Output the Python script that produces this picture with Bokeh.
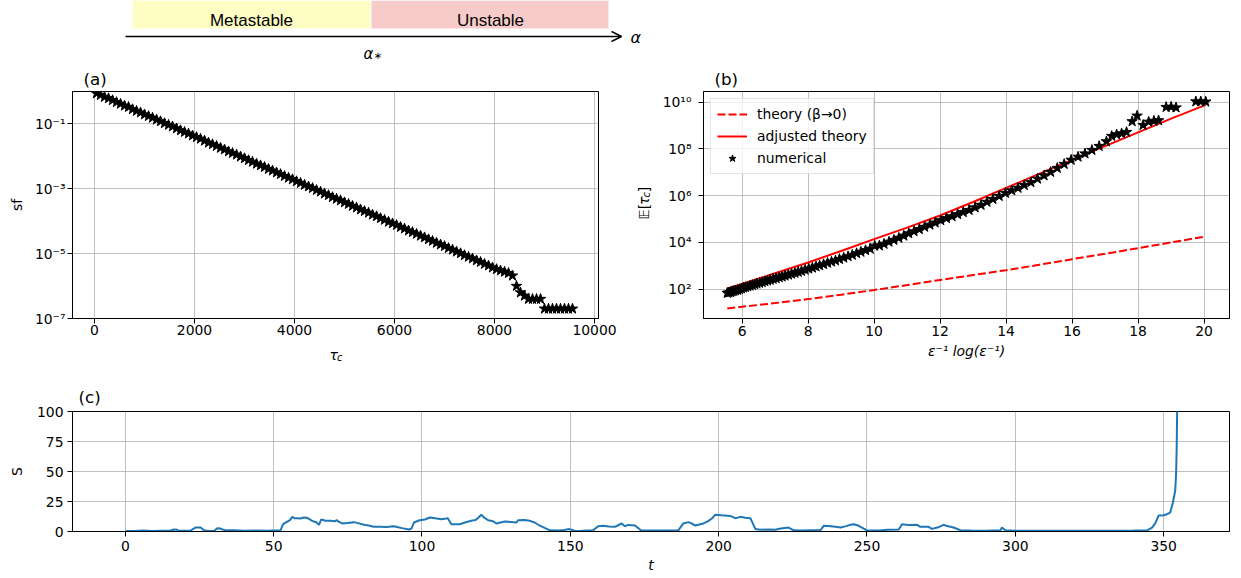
import math
from bokeh.plotting import figure
from bokeh.models import (Range1d, FixedTicker, CustomJSTickFormatter, Label, Legend,
                          LegendItem, Arrow, OpenHead, BasicTickFormatter, Title)
from bokeh.layouts import column, row
from bokeh.embed import file_html
from bokeh.resources import INLINE

# ---------------- data ----------------
# (a) survival function of tau_c (values as log10(sf))
sf_tau = [40, 120, 200, 280, 360, 440, 520, 600, 680, 760,
          840, 920, 1000, 1080, 1160, 1240, 1320, 1400, 1480, 1560,
          1640, 1720, 1800, 1880, 1960, 2040, 2120, 2200, 2280, 2360,
          2440, 2520, 2600, 2680, 2760, 2840, 2920, 3000, 3080, 3160,
          3240, 3320, 3400, 3480, 3560, 3640, 3720, 3800, 3880, 3960,
          4040, 4120, 4200, 4280, 4360, 4440, 4520, 4600, 4680, 4760,
          4840, 4920, 5000, 5080, 5160, 5240, 5320, 5400, 5480, 5560,
          5640, 5720, 5800, 5880, 5960, 6040, 6120, 6200, 6280, 6360,
          6440, 6520, 6600, 6680, 6760, 6840, 6920, 7000, 7080, 7160,
          7240, 7320, 7400, 7480, 7560, 7640, 7720, 7800, 7880, 7960,
          8040, 8120, 8200, 8280, 8360, 8440, 8520, 8600, 8680, 8760,
          8840, 8920, 9000, 9080, 9160, 9240, 9320, 9400, 9480, 9560]
sf_log10 = [-0.06, -0.11, -0.17, -0.21, -0.27, -0.33, -0.38, -0.44, -0.48, -0.55,
            -0.60, -0.65, -0.71, -0.76, -0.81, -0.87, -0.92, -0.98, -1.03, -1.08,
            -1.14, -1.20, -1.25, -1.30, -1.36, -1.41, -1.46, -1.52, -1.58, -1.63,
            -1.68, -1.74, -1.79, -1.85, -1.90, -1.95, -2.01, -2.06, -2.12, -2.17,
            -2.23, -2.28, -2.33, -2.39, -2.44, -2.50, -2.55, -2.61, -2.66, -2.71,
            -2.77, -2.82, -2.88, -2.93, -2.98, -3.04, -3.09, -3.15, -3.20, -3.26,
            -3.31, -3.36, -3.42, -3.47, -3.53, -3.58, -3.64, -3.69, -3.74, -3.80,
            -3.85, -3.91, -3.96, -4.02, -4.07, -4.12, -4.18, -4.23, -4.29, -4.34,
            -4.39, -4.45, -4.50, -4.56, -4.61, -4.67, -4.72, -4.77, -4.83, -4.88,
            -4.94, -4.99, -5.05, -5.10, -5.15, -5.21, -5.26, -5.32, -5.37, -5.43,
            -5.48, -5.52, -5.56, -5.60, -5.68, -6.00, -6.20, -6.30, -6.40, -6.40,
            -6.40, -6.40, -6.70, -6.70, -6.70, -6.70, -6.70, -6.70, -6.70, -6.70]

# (b) mean exit time vs eps^-1 log(eps^-1) (values as log10)
num_x = [5.55, 5.60, 5.65, 5.70, 5.75, 5.80, 5.86, 5.92, 5.98, 6.04,
         6.10, 6.17, 6.24, 6.31, 6.38, 6.45, 6.53, 6.61, 6.69, 6.77,
         6.85, 6.94, 7.03, 7.12, 7.21, 7.30, 7.40, 7.50, 7.60, 7.70,
         7.80, 7.91, 8.02, 8.13, 8.24, 8.35, 8.47, 8.59, 8.71, 8.83,
         8.95, 9.08, 9.21, 9.34, 9.47, 9.60, 9.74, 9.88, 10.02, 10.16,
         10.30, 10.45, 10.60, 10.75, 10.90, 11.05, 11.21, 11.37, 11.53, 11.69,
         11.85, 12.02, 12.19, 12.36, 12.53, 12.70, 12.88, 13.06, 13.24, 13.42,
         13.60, 13.79, 13.98, 14.17, 14.36, 14.55, 14.75, 14.95, 15.15, 15.35,
         15.55, 15.76, 15.97, 16.18, 16.39, 16.60, 16.82, 17.04, 17.20, 17.35,
         17.50, 17.65, 17.82, 17.97, 18.15, 18.32, 18.48, 18.62, 18.85, 19.00,
         19.15, 19.75, 19.90, 20.05]
num_log10 = [1.83, 1.85, 1.87, 1.90, 1.92, 1.94, 1.96, 1.99, 2.02, 2.06,
             2.08, 2.11, 2.14, 2.17, 2.20, 2.23, 2.26, 2.29, 2.33, 2.36,
             2.39, 2.43, 2.46, 2.50, 2.53, 2.57, 2.61, 2.65, 2.69, 2.73,
             2.77, 2.82, 2.87, 2.91, 2.96, 3.01, 3.06, 3.12, 3.17, 3.22,
             3.28, 3.34, 3.40, 3.46, 3.53, 3.59, 3.66, 3.72, 3.85, 3.86,
             3.93, 4.02, 4.10, 4.19, 4.28, 4.38, 4.47, 4.56, 4.66, 4.75,
             4.84, 4.94, 5.03, 5.11, 5.20, 5.29, 5.38, 5.49, 5.60, 5.73,
             5.85, 5.98, 6.11, 6.22, 6.33, 6.45, 6.57, 6.72, 6.86, 7.01,
             7.18, 7.35, 7.53, 7.66, 7.80, 7.95, 8.12, 8.32, 8.55, 8.62,
             8.66, 8.72, 9.18, 9.42, 9.02, 9.16, 9.20, 9.22, 9.79, 9.80,
             9.77, 10.03, 10.03, 10.02]
theory_x = [5.55, 6, 7, 8, 9, 10, 11, 12, 13, 14, 15, 16, 17, 18, 19, 20.05]
theory0_log10 = [1.17, 1.24, 1.40, 1.57, 1.76, 1.96, 2.17, 2.39, 2.60, 2.81,
                 3.04, 3.28, 3.51, 3.75, 4.00, 4.25]
adjusted_log10 = [2.03, 2.22, 2.68, 3.14, 3.63, 4.14, 4.63, 5.15, 5.73, 6.33,
                  6.93, 7.53, 8.12, 8.71, 9.30, 9.89]

# (c) trajectory S(t)
t_vals = [0, 3, 6, 9, 12, 15, 16.4, 17.5, 18, 22,
          22.6, 23.7, 25.4, 26.5, 28, 30, 31, 32, 32.7, 33.5,
          36.6, 40, 44, 48, 52.3, 53.2, 54.6, 55.5, 56.3, 57,
          58, 59, 60.2, 61.5, 63, 64.5, 65.3, 66, 67.5, 69.2,
          70.5, 71.4, 72, 73.1, 75, 77.1, 78.5, 80.4, 82, 83.8,
          86, 88, 90.5, 92, 93.3, 95.6, 96.5, 97.3, 99.2, 101,
          102.6, 104.5, 106.5, 108.7, 109.9, 112.7, 114.5, 116.6, 118, 119,
          120, 121, 122.3, 124, 125.1, 126.5, 127.9, 130, 131.9, 132.4,
          134.5, 136.4, 138, 139.2, 141, 143.1, 146, 148, 149.3, 150.5,
          151.5, 154, 157.7, 159.4, 161, 163, 165, 166, 167.3, 168.4,
          169.5, 171.8, 173.8, 178, 182, 186.4, 188.1, 189.8, 191, 192.1,
          194.9, 196.6, 197.8, 198.8, 201, 203.9, 205.6, 207.3, 209, 210.7,
          212.4, 214, 216.9, 219, 221, 223.6, 225.3, 228, 231, 234.3,
          235.4, 237, 239.4, 241.1, 243, 244.4, 245.5, 247, 248.3, 250,
          254, 257, 260.7, 261.8, 264, 266.9, 268, 270.8, 271.9, 274,
          275.8, 277, 279.2, 281.5, 285, 290, 295, 295.5, 296.6, 300,
          310, 320, 330, 340, 344.4, 346.1, 347.2, 348.3, 350, 351.1,
          352.2, 353.1, 353.9, 354.2, 354.4, 354.55, 354.6]
S_vals = [0.5, 0.5, 0.8, 0.5, 0.7, 0.6, 1.7, 1.5, 0.6, 0.7,
          1.7, 3.3, 3.3, 1.0, 0.5, 0.6, 2.8, 2.5, 1.7, 1.2,
          1.0, 0.7, 0.8, 0.7, 1.0, 6.1, 8.3, 9.5, 12.2, 11.0,
          11.1, 10.8, 11.7, 11.2, 8.9, 7.5, 5.6, 10.0, 9.0, 8.9,
          8.5, 9.4, 8.0, 6.7, 7.0, 7.8, 7.0, 5.6, 5.0, 3.9,
          4.0, 3.8, 4.4, 3.5, 2.8, 1.7, 2.5, 7.5, 9.4, 10.0,
          11.7, 11.0, 10.3, 11.0, 6.0, 6.0, 7.5, 8.9, 9.5, 11.5,
          13.9, 11.5, 9.4, 8.5, 6.7, 7.5, 8.3, 8.0, 7.5, 9.4,
          9.5, 8.9, 7.5, 5.6, 3.5, 1.0, 0.8, 1.2, 2.0, 1.5,
          0.5, 0.6, 1.0, 4.4, 4.8, 4.2, 3.9, 5.0, 6.7, 4.4,
          5.5, 5.0, 1.0, 0.8, 0.9, 1.0, 6.7, 7.8, 6.5, 5.0,
          6.7, 8.9, 11.0, 13.9, 13.5, 13.0, 11.1, 12.2, 11.5, 11.1,
          2.0, 1.5, 1.7, 1.5, 2.5, 3.3, 1.0, 0.8, 1.0, 1.0,
          4.7, 4.5, 3.9, 3.3, 4.5, 5.6, 6.1, 5.0, 3.3, 1.0,
          0.8, 1.5, 1.7, 6.1, 5.5, 5.6, 3.9, 3.9, 2.2, 3.5,
          5.6, 4.5, 3.3, 1.0, 0.8, 0.7, 1.0, 3.3, 1.0, 0.6,
          0.7, 0.6, 0.7, 0.8, 1.0, 3.3, 7.0, 13.3, 13.6, 14.4,
          15.8, 24, 34, 48, 70, 100, 130]

# tick values / labels
a_xticks = [0, 2000, 4000, 6000, 8000, 10000]
a_yticks = [1e-7, 1e-5, 1e-3, 1e-1]
b_xticks = [6, 8, 10, 12, 14, 16, 18, 20]
b_yticks = [1e2, 1e4, 1e6, 1e8, 1e10]
c_xticks = [0, 50, 100, 150, 200, 250, 300, 350]
c_yticks = [0, 25, 50, 75, 100]
regions = ["Metastable", "Unstable"]
panel_tags = ["(a)", "(b)", "(c)"]
legend_labels = ["theory (β→0)", "adjusted theory", "numerical"]

FONT = "DejaVu Sans"
FS = "13.9px"

sup_fmt = CustomJSTickFormatter(code="""
const sup = {"-":"\u207b","0":"\u2070","1":"\u00b9","2":"\u00b2","3":"\u00b3","4":"\u2074",
             "5":"\u2075","6":"\u2076","7":"\u2077","8":"\u2078","9":"\u2079"};
const e = Math.round(Math.log10(tick));
return "10" + String(e).split("").map(c => sup[c]).join("");
""")


def style(p):
    p.outline_line_color = "black"
    p.outline_line_width = 1
    p.background_fill_color = "white"
    p.border_fill_color = "white"
    for ax in list(p.xaxis) + list(p.yaxis):
        ax.major_label_text_font = FONT
        ax.major_label_text_font_size = FS
        ax.major_label_text_color = "black"
        ax.axis_label_text_font = FONT
        ax.axis_label_text_font_size = FS
        ax.axis_label_text_font_style = "normal"
        ax.axis_label_text_color = "black"
        ax.axis_line_color = "black"
        ax.axis_line_width = 1
        ax.major_tick_line_color = "black"
        ax.major_tick_out = 5
        ax.major_tick_in = 0
        ax.minor_tick_line_color = None
    p.grid.grid_line_color = "#b0b0b0"
    p.grid.grid_line_width = 0.8


def lab(p, x, y, text, size=FS, style_="normal", angle=0.0, align="left",
        baseline="middle", font=FONT):
    p.add_layout(Label(x=x, y=y, text=text,
                       text_font=font, text_font_size=size,
                       text_font_style=style_, angle=angle, text_align=align,
                       text_baseline=baseline, text_color="black"))


def strip(width, height, x0, x1, y_bottom, y_top):
    """Blank figure whose data coordinates equal page pixels (for free text)."""
    s = figure(width=width, height=height, x_range=Range1d(x0, x1),
               y_range=Range1d(y_bottom, y_top), toolbar_location=None,
               output_backend="svg", min_border=0, x_axis_location=None,
               y_axis_location=None, title=None, frame_align=False)
    s.grid.grid_line_color = None
    s.outline_line_color = None
    s.background_fill_color = "white"
    s.border_fill_color = "white"
    return s


# ---------------- top diagram (page y 0..91) ----------------
top = strip(1241, 91, 0, 1241, 91, 0)
top.quad(left=[132, 371], right=[370, 608], top=[0, 0], bottom=[28, 28],
         fill_color=["#fdfdc4", "#f8cbcb"], line_color=None)
lab(top, 251, 20, regions[0], size="17px", align="center", baseline="alphabetic",
    font="Liberation Sans")
lab(top, 490, 20, regions[1], size="17px", align="center", baseline="alphabetic",
    font="Liberation Sans")
top.add_layout(Arrow(x_start=125, y_start=36, x_end=621, y_end=36, line_width=1.5,
                     line_color="black",
                     end=OpenHead(size=10, line_width=1.5, line_color="black")))
lab(top, 630, 37, "α", size="16px", style_="italic")
lab(top, 363, 53, "α", size="15px", style_="italic")
lab(top, 373, 55, "∗", size="10px")
lab(top, 83, 78.5, panel_tags[0], size="16.7px")
lab(top, 714, 78.5, panel_tags[1], size="16.7px")

# ---------------- panel (a) (page y 91..341) ----------------
fa = figure(width=624, height=250, x_range=Range1d(-440, 10080),
            y_range=Range1d(1e-7, 1.0), y_axis_type="log",
            toolbar_location=None, output_backend="svg", title=None,
            min_border_left=72, min_border_right=26, min_border_top=0,
            min_border_bottom=23, frame_align=False)
fa.scatter(sf_tau, [10 ** v for v in sf_log10], marker="star", size=11,
           fill_color="black", line_color="black")
style(fa)
fa.xaxis.ticker = FixedTicker(ticks=a_xticks)
fa.xaxis.formatter = BasicTickFormatter(use_scientific=False)
fa.yaxis.ticker = FixedTicker(ticks=a_yticks)
fa.yaxis.formatter = sup_fmt
fa.xaxis.major_label_standoff = 1
fa.yaxis.major_label_standoff = 2
fa.yaxis.axis_label = "sf"
fa.yaxis.axis_label_standoff = 7

# x label of (a): tau with subscript c (page y 341..368)
strip_a = strip(624, 27, 0, 624, 368, 341)
lab(strip_a, 329, 354, "τ", style_="italic", baseline="alphabetic")
lab(strip_a, 336.6, 357, "c", size="9.7px", style_="italic", baseline="alphabetic")

# y label of (b): E[tau_c] rotated (page x 624..656, y 91..368)
strip_b = strip(32, 277, 624, 656, 368, 91)
ang = math.pi / 2
lab(strip_b, 643, 219, "𝔼[", angle=ang, baseline="alphabetic")
lab(strip_b, 643, 204.6, "τ", angle=ang, style_="italic", baseline="alphabetic")
lab(strip_b, 646, 197, "c", size="9.7px", angle=ang, style_="italic", baseline="alphabetic")
lab(strip_b, 643, 191.7, "]", angle=ang, baseline="alphabetic")

# ---------------- panel (b) (page x 656..1241) ----------------
fb = figure(width=585, height=277, x_range=Range1d(4.83, 20.77),
            y_range=Range1d(10 ** 0.74, 10 ** 10.46), y_axis_type="log",
            toolbar_location=None, output_backend="svg", title=None,
            min_border_left=47, min_border_right=12, min_border_top=0,
            min_border_bottom=50, frame_align=False)
r0 = fb.line(theory_x, [10 ** v for v in theory0_log10], line_color="#ff0000",
             line_width=2, line_dash="8 3")
r1 = fb.line(theory_x, [10 ** v for v in adjusted_log10], line_color="#ff0000",
             line_width=2)
r2 = fb.scatter(num_x, [10 ** v for v in num_log10], marker="star", size=11,
                fill_color="black", line_color="black")
style(fb)
fb.xaxis.ticker = FixedTicker(ticks=b_xticks)
fb.yaxis.ticker = FixedTicker(ticks=b_yticks)
fb.yaxis.formatter = sup_fmt
fb.xaxis.major_label_standoff = 2
fb.yaxis.major_label_standoff = 7
fb.xaxis.axis_label = "ε⁻¹ log(ε⁻¹)"
fb.xaxis.axis_label_text_font_style = "italic"
fb.xaxis.axis_label_standoff = 4
legend = Legend(items=[LegendItem(label=legend_labels[0], renderers=[r0]),
                       LegendItem(label=legend_labels[1], renderers=[r1]),
                       LegendItem(label=legend_labels[2], renderers=[r2])],
                location="top_left", margin=7, padding=6, spacing=4,
                glyph_width=30, glyph_height=18, label_height=18,
                label_standoff=10, label_text_font=FONT, label_text_font_size=FS,
                label_text_color="black",
                border_line_color="#cccccc", background_fill_alpha=0.8)
fb.add_layout(legend)

# ---------------- panel (c) (page y 368..578) ----------------
fc = figure(width=1241, height=210, x_range=Range1d(-17.8, 372.2),
            y_range=Range1d(0, 100), toolbar_location=None, output_backend="svg",
            min_border_left=72, min_border_right=12, min_border_top=43,
            min_border_bottom=47, frame_align=False,
            title=Title(text=panel_tags[2], align="left", offset=6,
                        text_font=FONT, text_font_size="16.7px",
                        text_font_style="normal", text_color="black",
                        standoff=10))
fc.line(t_vals, S_vals, line_color="#1f77b4", line_width=2)
style(fc)
fc.xaxis.ticker = FixedTicker(ticks=c_xticks)
fc.yaxis.ticker = FixedTicker(ticks=c_yticks)
fc.xaxis.major_label_standoff = 4
fc.yaxis.major_label_standoff = 4
fc.yaxis.axis_label = "S"
fc.yaxis.axis_label_standoff = 9
fc.xaxis.axis_label = "t"
fc.xaxis.axis_label_text_font_style = "italic"
fc.xaxis.axis_label_standoff = 3

layout = column(top, row(column(fa, strip_a), strip_b, fb), fc)
open("out.html", "w").write(file_html(layout, INLINE))
